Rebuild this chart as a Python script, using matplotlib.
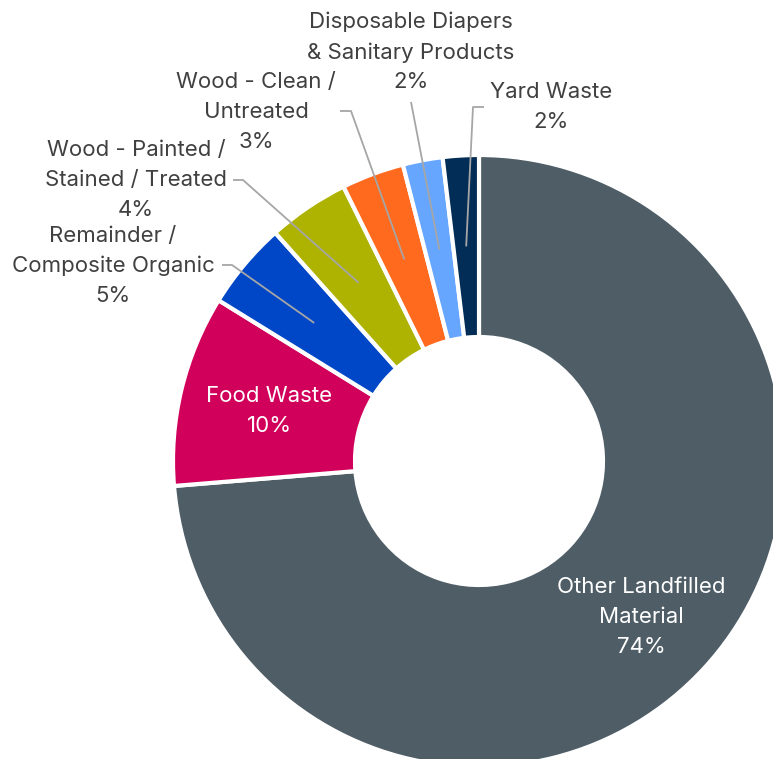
import numpy as np
import matplotlib.pyplot as plt

# share of material (%), clockwise from 12 o'clock
names = ["Other Landfilled\nMaterial", "Food Waste", "Remainder /\nComposite Organic",
         "Wood - Painted /\nStained / Treated", "Wood - Clean /\nUntreated",
         "Disposable Diapers\n& Sanitary Products", "Yard Waste"]
shares = [73.7, 10.1, 4.6, 4.3, 3.3, 2.1, 1.9]
colors = ["#4E5D66", "#D1005A", "#0047C8", "#ADB300", "#FF6A1F", "#66A6FF", "#022D57"]

W, H = 773, 759
plt.rcParams["font.family"] = ["Inter", "DejaVu Sans"]

fig = plt.figure(figsize=(W / 100, H / 100), dpi=100)
ax = fig.add_axes([0, 0, 1, 1])

cx, cy, R, r_in = 479, H - 461, 306, 124
wedges, _ = ax.pie(shares, colors=colors, startangle=90, counterclock=False,
                   center=(cx, cy), radius=R,
                   wedgeprops=dict(width=R - r_in, edgecolor="white", linewidth=3))

ax.set_xlim(0, W)
ax.set_ylim(0, H)
ax.set_aspect("equal")
ax.axis("off")

txt_dark = "#404040"
fs = 16

# (label centre, leader start, elbow) in pixel coords of the picture; None = inside
layout = [
    ((641, 617), None, None),
    ((269, 411), None, None),
    ((113, 266), (222, 265), (232, 265)),
    ((136, 180), (233, 180), (243, 180)),
    ((256, 112), (340, 111), (351, 111)),
    ((411, 52), (411, 102), None),
    ((551, 107), (484, 107), (473, 107)),
]

for w, name, val, (pos, start, elbow) in zip(wedges, names, shares, layout):
    label = f"{name}\n{round(val):d}%"
    x, y = pos[0], H - pos[1]
    inside = start is None
    ax.text(x, y, label, ha="center", va="center", fontsize=fs,
            color="white" if inside else txt_dark, linespacing=1.6)
    if inside:
        continue
    mid = np.deg2rad((w.theta1 + w.theta2) / 2)
    rm = (R + r_in) / 2
    end = (cx + rm * np.cos(mid), cy + rm * np.sin(mid))
    pts = [start] + ([elbow] if elbow else [])
    xs = [p[0] for p in pts] + [end[0]]
    ys = [H - p[1] for p in pts] + [end[1]]
    ax.plot(xs, ys, color="#A6A6A6", lw=1.3, solid_capstyle="butt")

fig.savefig("out.png", dpi=100)
